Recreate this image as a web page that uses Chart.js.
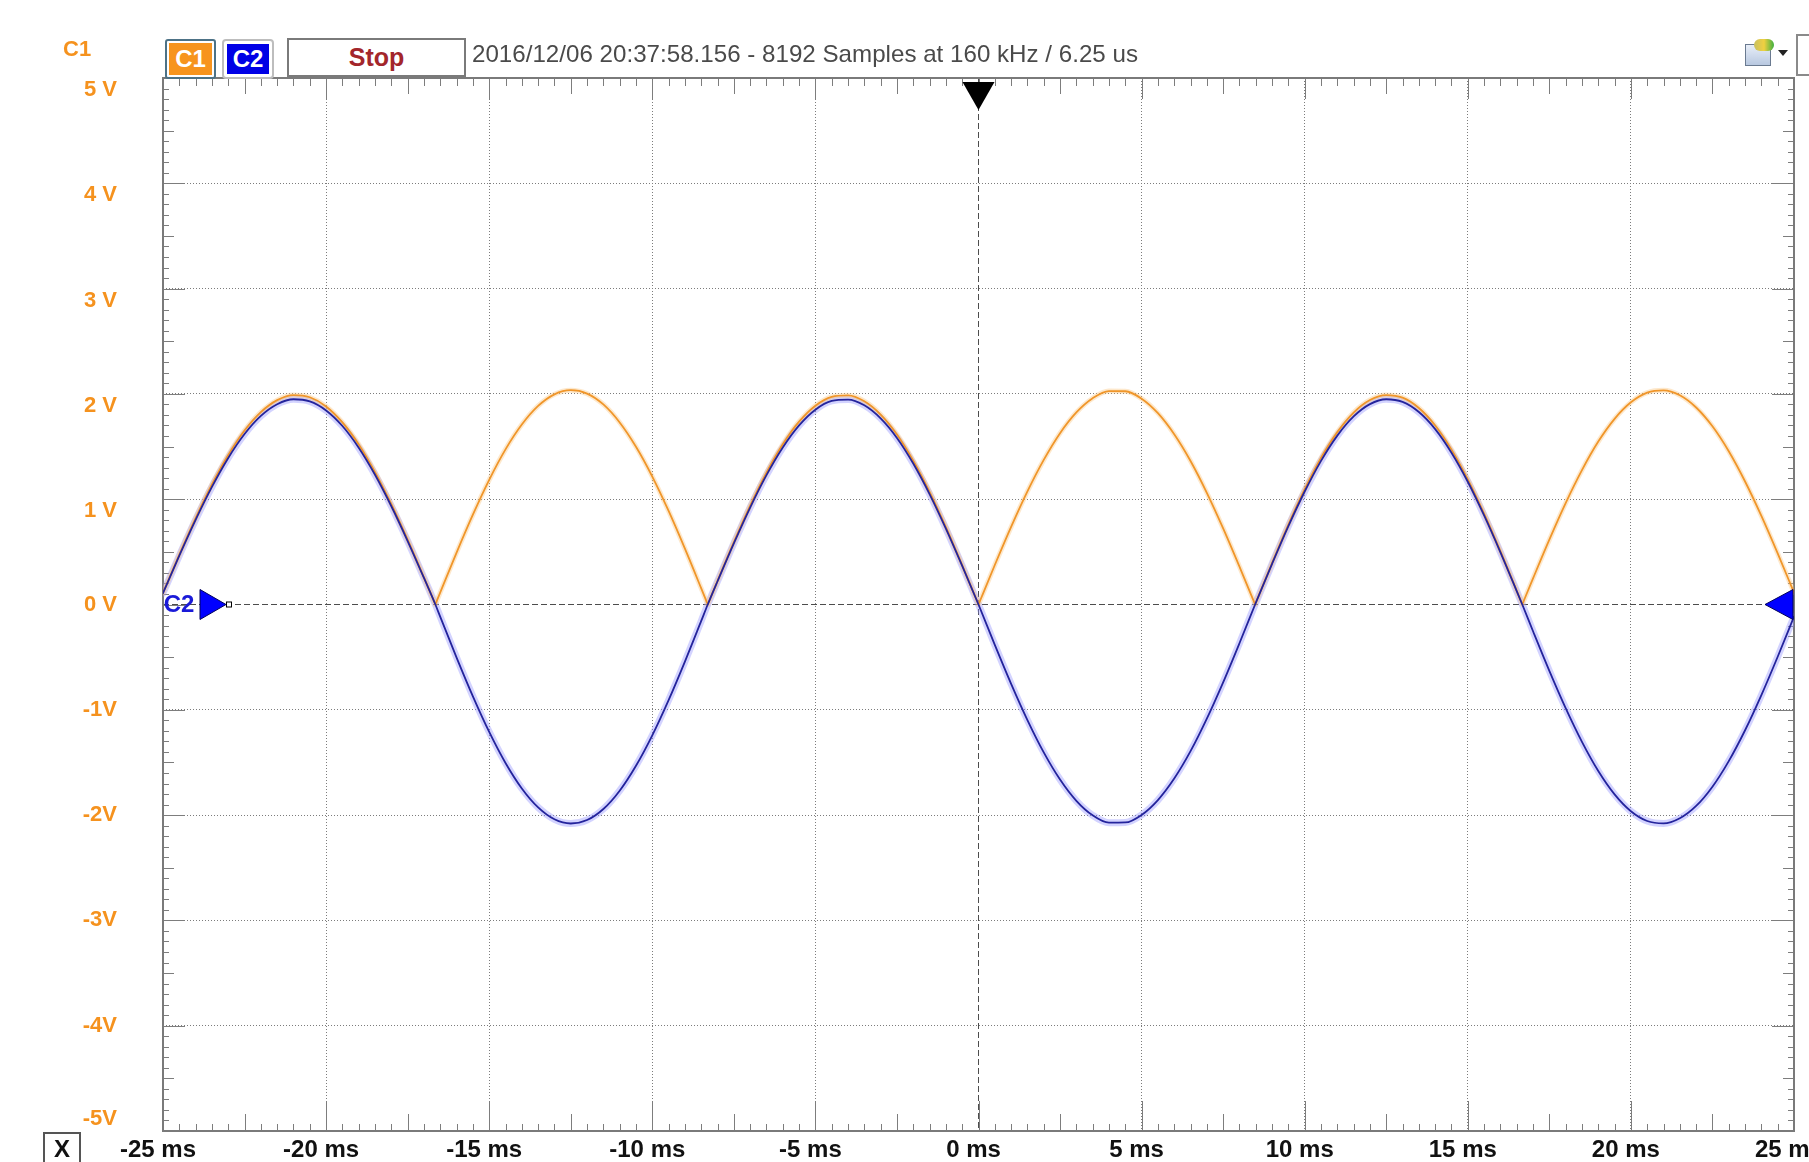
<!DOCTYPE html>
<html>
<head>
<meta charset="utf-8">
<script src="https://cdn.jsdelivr.net/npm/chart.js@4.4.1/dist/chart.umd.min.js"></script>
<style>
html,body{margin:0;padding:0;background:#fff;overflow:hidden;}
#wrap{position:relative;width:1809px;height:1162px;overflow:hidden;}
#c{position:absolute;left:0;top:0;}
.ui{position:absolute;font-family:'Liberation Sans',Arial,sans-serif;white-space:nowrap;box-sizing:border-box;}
#c1lbl{left:63px;top:36px;font-size:22px;font-weight:bold;color:#F5921E;}
#c1box{left:165px;top:39px;width:51px;height:40px;border:2px solid #4d7286;border-radius:3px;background:#fff;}
#c1box div{position:absolute;left:2px;top:2px;right:2px;bottom:2px;background:#F7941D;color:#fff;font-weight:bold;font-size:24px;text-align:center;line-height:32px;}
#c2box{left:222px;top:39px;width:52px;height:40px;border:2px solid #bdbdbd;border-radius:4px;background:#fff;}
#c2box div{position:absolute;left:3px;top:3px;right:3px;bottom:3px;background:#0000E6;color:#fff;font-weight:bold;font-size:24px;text-align:center;line-height:30px;}
#stop{left:287px;top:38px;width:179px;height:39px;border:2px solid #7a7a7a;background:#fff;color:#A3262B;font-weight:bold;font-size:25px;text-align:center;line-height:35px;}
#hdr{left:472px;top:40px;font-size:24px;color:#4a4a4a;transform-origin:0 0;}
#xbox{left:43px;top:1132px;width:38px;height:32px;border:2px solid #555;font-weight:bold;font-size:24px;text-align:center;line-height:30px;color:#111;}
#icon{left:1745px;top:44px;width:26px;height:22px;border:1px solid #6a7a90;background:linear-gradient(#e8eef8,#b8c8e0);}
#icon:after{content:'';position:absolute;left:8px;top:-6px;width:20px;height:12px;border-radius:6px;background:linear-gradient(90deg,#c8c060,#f0d040,#40b040);}
#arr{left:1778px;top:50px;width:0;height:0;border-left:5px solid transparent;border-right:5px solid transparent;border-top:6px solid #222;}
#rbox{left:1796px;top:34px;width:20px;height:42px;border:2px solid #8a8a8a;background:#fff;}
</style>
</head>
<body>
<div id="wrap">
<canvas id="c" width="1809" height="1162"></canvas>
<div class="ui" id="c1lbl">C1</div>
<div class="ui" id="c1box"><div>C1</div></div>
<div class="ui" id="c2box"><div>C2</div></div>
<div class="ui" id="stop">Stop</div>
<div class="ui" id="hdr">2016/12/06 20:37:58.156 - 8192 Samples at 160 kHz / 6.25 us</div>
<div class="ui" id="xbox">X</div>
<div class="ui" id="icon"></div>
<div class="ui" id="arr"></div>
<div class="ui" id="rbox"></div>
</div>
<script>
// ---- data ----
const timeMs = [
  -25,-24.5,-24,-23.5,-23,-22.5,-22,-21.5,-21,-20.5,-20,-19.5,-19,-18.5,-18,-17.5,-17,-16.65,
  -16.5,-16,-15.5,-15,-14.5,-14,-13.5,-13,-12.5,-12,-11.5,-11,-10.5,-10,-9.5,-9,-8.5,-8.3,
  -8,-7.5,-7,-6.5,-6,-5.5,-5,-4.5,-4,-3.5,-3,-2.5,-2,-1.5,-1,-0.5,0,
  0.5,1,1.5,2,2.5,3,3.5,4,4.5,5,5.5,6,6.5,7,7.5,8,8.48,
  8.5,9,9.5,10,10.5,11,11.5,12,12.5,13,13.5,14,14.5,15,15.5,16,16.5,16.67,
  17,17.5,18,18.5,19,19.5,20,20.5,21,21.5,22,22.5,23,23.5,24,24.5,25
];
const c1Volts = [
  0.110,0.473,0.820,1.140,1.420,1.652,1.827,1.941,1.989,1.968,1.881,1.729,1.520,1.257,0.952,0.615,0.257,0,
  0.115,0.493,0.853,1.184,1.473,1.709,1.886,1.996,2.035,2.003,1.900,1.729,1.498,1.215,0.888,0.530,0.153,0,
  0.225,0.593,0.940,1.253,1.522,1.736,1.888,1.972,1.986,1.930,1.804,1.615,1.366,1.070,0.735,0.374,0,
  0.375,0.737,1.074,1.373,1.627,1.824,1.959,2.027,2.025,1.955,1.817,1.617,1.363,1.061,0.723,0.360,0,
  0.015,0.394,0.759,1.095,1.392,1.637,1.823,1.942,1.989,1.964,1.866,1.700,1.471,1.189,0.863,0.506,0.130,0,
  0.248,0.616,0.963,1.276,1.547,1.763,1.920,2.012,2.034,1.987,1.871,1.692,1.455,1.168,0.841,0.485,0.113
];
const c2Volts = [
  0.108,0.464,0.804,1.117,1.392,1.619,1.791,1.902,1.949,1.929,1.843,1.695,1.489,1.232,0.933,0.603,0.252,0,
  -0.117,-0.504,-0.872,-1.210,-1.505,-1.747,-1.927,-2.040,-2.080,-2.047,-1.942,-1.768,-1.531,-1.242,-0.908,-0.542,-0.156,0,
  0.221,0.581,0.921,1.228,1.491,1.701,1.850,1.933,1.946,1.892,1.768,1.582,1.339,1.049,0.721,0.367,0,
  -0.383,-0.753,-1.097,-1.404,-1.662,-1.864,-2.002,-2.072,-2.070,-1.998,-1.857,-1.653,-1.393,-1.084,-0.739,-0.368,0,
  0.015,0.386,0.744,1.073,1.364,1.604,1.786,1.903,1.949,1.924,1.828,1.666,1.442,1.166,0.846,0.496,0.127,0,
  -0.254,-0.630,-0.984,-1.304,-1.581,-1.803,-1.963,-2.056,-2.079,-2.030,-1.913,-1.730,-1.487,-1.194,-0.860,-0.496,-0.115
];
const timeTickValues = [-25,-20,-15,-10,-5,0,5,10,15,20,25];
const timeLabels = ['-25 ms','-20 ms','-15 ms','-10 ms','-5 ms','0 ms','5 ms','10 ms','15 ms','20 ms','25 ms'];
const voltTickValues = [-5,-4,-3,-2,-1,0,1,2,3,4,5];
const voltLabels = ['-5V','-4V','-3V','-2V','-1V','0 V','1 V','2 V','3 V','4 V','5 V'];

// ---- header text width fit ----
(function(){
  const h = document.getElementById('hdr');
  const w = h.getBoundingClientRect().width;
  h.style.transform = 'scaleX(' + (666 / w) + ')';
})();

const FONT = "'Liberation Sans', Arial, sans-serif";
const pts = arr => timeMs.map((t, i) => ({x: t, y: arr[i]}));
// rectified channel: break the curve at each zero touch so the V stays sharp
const ptsRect = arr => {
  const out = [];
  timeMs.forEach((t, i) => {
    out.push({x: t, y: arr[i]});
    if (arr[i] === 0 && i > 0 && i < timeMs.length - 1) {
      out.push({x: t, y: null});
      out.push({x: t, y: arr[i]});
    }
  });
  return out;
};
const gridColor = (c, edge) => {
  if (!c.tick) return '#7c7c7c';
  const v = c.tick.value;
  if (Math.abs(v) === edge) return 'rgba(0,0,0,0)';
  return v === 0 ? '#4d4d4d' : '#7c7c7c';
};
const gridDash = c => (c.tick && c.tick.value === 0) ? [6, 3] : [1, 2];

const decor = {
  id: 'decor',
  beforeDatasetsDraw(chart) {
    const {ctx, chartArea: a, scales} = chart;
    const xs = scales.x, ys = scales.y;
    ctx.save();
    ctx.strokeStyle = '#7d7d7d';
    ctx.lineWidth = 1;
    ctx.beginPath();
    for (let k = -50; k <= 50; k++) {
      const x = Math.round(xs.getPixelForValue(k / 2)) + 0.5;
      const major = k % 10 === 0, mid = k % 5 === 0;
      const lenB = major ? 30 : (mid ? 17 : 7);
      const lenT = major ? 21 : (mid ? 16 : 8);
      ctx.moveTo(x, a.bottom); ctx.lineTo(x, a.bottom - lenB);
      ctx.moveTo(x, a.top); ctx.lineTo(x, a.top + lenT);
    }
    for (let k = -50; k <= 50; k++) {
      const y = Math.round(ys.getPixelForValue(k / 10)) + 0.5;
      const len = k % 10 === 0 ? 22 : (k % 5 === 0 ? 11 : 6);
      ctx.moveTo(a.left, y); ctx.lineTo(a.left + len, y);
      ctx.moveTo(a.right, y); ctx.lineTo(a.right - len, y);
    }
    ctx.stroke();
    ctx.lineWidth = 2;
    ctx.strokeStyle = '#7a7a7a';
    ctx.strokeRect(a.left, a.top, a.right - a.left, a.bottom - a.top);
    ctx.restore();
  },
  afterDatasetsDraw(chart) {
    const {ctx, chartArea: a, scales} = chart;
    const x0 = scales.x.getPixelForValue(0);
    const y0 = scales.y.getPixelForValue(0);
    ctx.save();
    // trigger marker
    ctx.fillStyle = '#000';
    ctx.beginPath();
    ctx.moveTo(x0 - 16, a.top + 4);
    ctx.lineTo(x0 + 16, a.top + 4);
    ctx.lineTo(x0, a.top + 32);
    ctx.closePath();
    ctx.fill();
    // left C2 marker
    ctx.fillStyle = '#0000FF';
    ctx.strokeStyle = '#00005a';
    ctx.lineWidth = 1;
    ctx.beginPath();
    ctx.moveTo(a.left + 37, y0 - 15);
    ctx.lineTo(a.left + 37, y0 + 15);
    ctx.lineTo(a.left + 63, y0);
    ctx.closePath();
    ctx.fill(); ctx.stroke();
    ctx.fillStyle = '#fff';
    ctx.fillRect(a.left + 63, y0 - 3, 6, 6);
    ctx.strokeStyle = '#000';
    ctx.strokeRect(a.left + 63.5, y0 - 2.5, 5, 5);
    ctx.fillStyle = '#1a1ad8';
    ctx.font = 'bold 24px ' + FONT;
    ctx.textAlign = 'center';
    ctx.textBaseline = 'middle';
    ctx.fillText('C2', a.left + 16, y0 + 1);
    // right C2 marker
    ctx.fillStyle = '#0000FF';
    ctx.strokeStyle = '#00005a';
    ctx.beginPath();
    ctx.moveTo(a.right - 1, y0 - 15);
    ctx.lineTo(a.right - 1, y0 + 15);
    ctx.lineTo(a.right - 29, y0);
    ctx.closePath();
    ctx.fill(); ctx.stroke();
    ctx.restore();
  }
};

new Chart(document.getElementById('c'), {
  type: 'line',
  data: {
    datasets: [
      {label: 'C2 glow', data: pts(c2Volts), borderColor: 'rgba(140,140,255,0.38)', borderWidth: 7, order: 4},
      {label: 'C1 glow', data: ptsRect(c1Volts), borderColor: 'rgba(250,195,120,0.38)', borderWidth: 5, order: 3},
      {label: 'C1', data: ptsRect(c1Volts), borderColor: '#F0962A', borderWidth: 1.8, order: 2},
      {label: 'C2', data: pts(c2Volts), borderColor: '#24249C', borderWidth: 1.8, order: 1}
    ]
  },
  options: {
    responsive: false,
    animation: false,
    events: [],
    spanGaps: false,
    layout: {padding: {top: 78, left: 0, right: 0, bottom: 0}, autoPadding: false},
    elements: {
      point: {radius: 0},
      line: {cubicInterpolationMode: 'monotone', borderJoinStyle: 'round', borderCapStyle: 'round', fill: false}
    },
    plugins: {legend: {display: false}, tooltip: {enabled: false}},
    scales: {
      x: {
        type: 'linear', position: 'bottom', min: -25, max: 25,
        afterBuildTicks: s => { s.ticks = timeTickValues.map(v => ({value: v})); },
        afterFit: s => { s.height = 31; s.paddingLeft = 0; s.paddingRight = 0; },
        ticks: {
          callback: v => timeLabels[timeTickValues.indexOf(v)],
          font: {family: FONT, size: 24, weight: 'bold'},
          color: '#111', padding: 5, labelOffset: -5,
          maxRotation: 0, minRotation: 0, autoSkip: false
        },
        grid: {drawTicks: false, lineWidth: 1, color: c => gridColor(c, 25)},
        border: {display: false, dash: gridDash}
      },
      y: {
        type: 'linear', position: 'right', min: -5, max: 5,
        afterBuildTicks: s => { s.ticks = voltTickValues.map(v => ({value: v})); },
        afterFit: s => { s.width = 15; s.paddingTop = 0; s.paddingBottom = 0; },
        ticks: {display: false},
        grid: {drawTicks: false, lineWidth: 1, color: c => gridColor(c, 5)},
        border: {display: false, dash: gridDash}
      },
      yLab: {
        type: 'linear', position: 'left', min: -5, max: 5,
        afterBuildTicks: s => { s.ticks = voltTickValues.map(v => ({value: v})); },
        afterFit: s => { s.width = 163; s.paddingTop = 0; s.paddingBottom = 0; },
        ticks: {
          callback: v => {
            const t = voltLabels[voltTickValues.indexOf(v)];
            if (v > 0) return ['', t];
            if (v === -5) return [t, ''];
            return t;
          },
          font: {family: FONT, size: 22, weight: 'bold', lineHeight: '24px'},
          color: '#F5921E', padding: 46
        },
        grid: {display: false, drawTicks: false},
        border: {display: false}
      }
    }
  },
  plugins: [decor]
});
</script>
</body>
</html>
